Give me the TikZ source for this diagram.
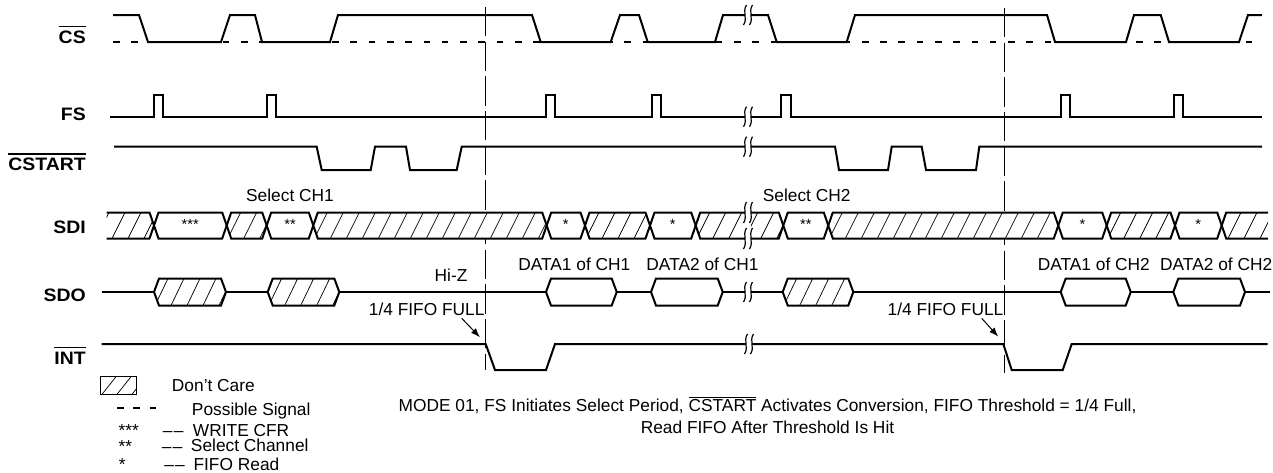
\documentclass[tikz,border=0pt]{standalone}
\usepackage{fontspec}
\setmainfont{Liberation Sans}
\usepackage{graphicx}
\usetikzlibrary{arrows.meta}
\newcommand{\ovl}[3]{\leavevmode\vbox{\hrule height #1\kern#2\hbox{#3}}}
\newcommand{\blab}[1]{\scalebox{1.08}[1]{\fontsize{13.5}{15}\selectfont\bfseries #1}}
\newcommand{\ddash}{–\kern1pt–}
\tikzset{
  sig/.style={line width=1.5pt},
  hatchln/.style={line width=0.55pt},
  brkln/.style={line width=0.9pt},
  vdash/.style={line width=0.75pt, dash pattern=on 22pt off 4pt},
  lab/.style={anchor=base east, inner sep=0pt},
  txt/.style={anchor=base, inner sep=0pt, font=\fontsize{13}{15}\selectfont},
  txtw/.style={anchor=base west, inner sep=0pt, font=\fontsize{13}{15}\selectfont},
  ast/.style={anchor=base, inner sep=0pt, font=\fontsize{11}{13}\selectfont},
  arr/.style={line width=0.75pt, -{Latex[length=7pt,width=5pt]}}
}
% hexagonal bus box, white
\newcommand{\hexbox}[5]{\filldraw[sig,fill=white] (#1,{(#3+#4)/2}) -- ({#1+#5},#3) -- ({#2-#5},#3) -- (#2,{(#3+#4)/2}) -- ({#2-#5},#4) -- ({#1+#5},#4) -- cycle;}
% hexagonal bus box, hatched (don't care)
\newcommand{\hexhatch}[5]{%
  \begin{scope}
    \clip (#1,{(#3+#4)/2}) -- ({#1+#5},#3) -- ({#2-#5},#3) -- (#2,{(#3+#4)/2}) -- ({#2-#5},#4) -- ({#1+#5},#4) -- cycle;
    \fill[white] (#1,#3) rectangle (#2,#4);
    \foreach \k in {0,...,20}{\draw[hatchln] ({#1-15+16*\k},#4) -- ++(13,{#3-#4});}
  \end{scope}
  \draw[sig] (#1,{(#3+#4)/2}) -- ({#1+#5},#3) -- ({#2-#5},#3) -- (#2,{(#3+#4)/2}) -- ({#2-#5},#4) -- ({#1+#5},#4) -- cycle;}
% break mark: x, y, half height
\newcommand{\brk}[3]{%
  \fill[white] ({#1-3},{#2-#3}) rectangle ({#1+3},{#2+#3});
  \draw[brkln] ({#1-1.5},{#2-#3}) .. controls ({#1-6},{#2-#3/3}) and ({#1},{#2+#3/3}) .. ({#1-4.5},{#2+#3});
  \draw[brkln] ({#1+4.5},{#2-#3}) .. controls ({#1},{#2-#3/3}) and ({#1+6},{#2+#3/3}) .. ({#1+1.5},{#2+#3});}
\begin{document}
\begin{tikzpicture}[x=0.75pt,y=-0.75pt]
\useasboundingbox (0,0) rectangle (1273,472);

% vertical reference lines
\draw[vdash] (485.7,7) -- (485.7,370);
\draw[vdash] (1004,8) -- (1004,373);

% signal names
\node[lab] (cs) at (86,43.3) {\blab{\ovl{0.9pt}{2.6pt}{CS}}};
\node[lab] (fs) at (86,120) {\blab{FS}};
\node[lab] (cstart) at (86,170) {\blab{\ovl{0.9pt}{2.2pt}{CSTART}}};
\node[lab] (sdi) at (86,233.3) {\blab{SDI}};
\node[lab] (sdo) at (86,301.7) {\blab{SDO}};
\node[lab] (int) at (86,364) {\blab{\ovl{0.9pt}{2.4pt}{INT}}};

% CS
\draw[sig, dash pattern=on 5pt off 8.7pt] (113,42) -- (1253,42);
\draw[sig] (113,15) -- (139,15) -- (148,42) -- (221,42) -- (230,15) -- (255,15) -- (262,42) -- (330,42) -- (338,15) -- (532,15) -- (540.7,42) -- (610.7,42) -- (620,15) -- (639,15) -- (647.7,42) -- (715,42) -- (723,15) -- (768,15) -- (776.7,42) -- (846.7,42) -- (855,15) -- (1047,15) -- (1055,42) -- (1126,42) -- (1134,15) -- (1160.7,15) -- (1169,42) -- (1239,42) -- (1248,15) -- (1262,15);

% FS
\draw[sig] (110,116.7) -- (154,116.7) -- (154,95) -- (163,95) -- (163,116.7)
  -- (266.7,116.7) -- (266.7,95) -- (276,95) -- (276,116.7)
  -- (546,116.7) -- (546,95) -- (555,95) -- (555,116.7)
  -- (652,116.7) -- (652,95) -- (661,95) -- (661,116.7)
  -- (781,116.7) -- (781,95) -- (790.7,95) -- (790.7,116.7)
  -- (1061,116.7) -- (1061,95) -- (1070,95) -- (1070,116.7)
  -- (1174,116.7) -- (1174,95) -- (1183,95) -- (1183,116.7) -- (1262,116.7);

% CSTART
\draw[sig] (114,146.7) -- (316.7,146.7) -- (321.7,170) -- (370.7,170) -- (375,146.7) -- (406,146.7) -- (410,170) -- (456.7,170) -- (461.7,146.7) -- (835,146.7) -- (839,170) -- (888,170) -- (891.7,146.7) -- (921.7,146.7) -- (926,170) -- (976,170) -- (979.3,146.7) -- (1262,146.7);

% SDI
\begin{scope}
  \clip (106.7,212.5) -- (149.5,212.5) -- (154,225.5) -- (149.5,238.5) -- (106.7,238.5) -- cycle;
  \foreach \k in {0,...,4}{\draw[hatchln] ({96+16*\k},238.5) -- ++(13,-26);}
\end{scope}
\draw[sig] (106.7,212.5) -- (149.5,212.5) -- (154,225.5) -- (149.5,238.5) -- (106.7,238.5);
\hexbox{154}{226.7}{212.5}{238.5}{4.5}
\hexhatch{226.7}{266.7}{212.5}{238.5}{4.5}
\hexbox{266.7}{313.3}{212.5}{238.5}{4.5}
\hexhatch{313.3}{546.7}{212.5}{238.5}{4.5}
\hexbox{546.7}{585}{212.5}{238.5}{4.5}
\hexhatch{585}{650}{212.5}{238.5}{4.5}
\hexbox{650}{695.7}{212.5}{238.5}{4.5}
\hexhatch{695.7}{783.3}{212.5}{238.5}{4.5}
\hexbox{783.3}{828.3}{212.5}{238.5}{4.5}
\hexhatch{828.3}{1058.3}{212.5}{238.5}{4.5}
\hexbox{1058.3}{1106.7}{212.5}{238.5}{4.5}
\hexhatch{1106.7}{1175}{212.5}{238.5}{4.5}
\hexbox{1175}{1221.7}{212.5}{238.5}{4.5}
\begin{scope}
  \clip (1268,212.5) -- (1226.2,212.5) -- (1221.7,225.5) -- (1226.2,238.5) -- (1268,238.5) -- cycle;
  \foreach \k in {0,...,4}{\draw[hatchln] ({1212+16*\k},238.5) -- ++(13,-26);}
\end{scope}
\draw[sig] (1268,212.5) -- (1226.2,212.5) -- (1221.7,225.5) -- (1226.2,238.5) -- (1268,238.5);
\node[ast] (a3) at (190.3,229.6) {***};
\node[ast] (a2) at (290,229.6) {**};
\node[ast] (a1a) at (565.8,229.6) {*};
\node[ast] (a1b) at (672.8,229.6) {*};
\node[ast] (a2b) at (805.8,229.6) {**};
\node[ast] (a1c) at (1082.5,229.6) {*};
\node[ast] (a1d) at (1198.3,229.6) {*};

% SDO
\draw[sig] (101.7,292) -- (1270,292);
\hexhatch{154}{226}{278.5}{305.5}{5}
\hexhatch{267.7}{339.3}{278.5}{305.5}{5}
\hexbox{546}{616.7}{278.5}{305.5}{5}
\hexbox{651}{722.7}{278.5}{305.5}{5}
\hexhatch{782.7}{853.3}{278.5}{305.5}{5}
\hexbox{1060.7}{1130.7}{278.5}{305.5}{5}
\hexbox{1173.3}{1245}{278.5}{305.5}{5}

% INT
\draw[sig] (101.7,344) -- (485.7,344) -- (495,370) -- (546,370) -- (555,344) -- (1003.3,344) -- (1011.7,370) -- (1062.7,370) -- (1071.7,344) -- (1267.7,344);

% break marks
\brk{748}{15}{10}
\brk{748}{116.7}{10}
\brk{748}{146.7}{10}
\fill[white] (745,202) rectangle (751,249);
\brk{748}{212.5}{10.5}
\brk{748}{238.5}{10.5}
\brk{748}{292}{10}
\brk{749}{344}{10}

% labels
\node[txt] (selch1) at (290,201.7) {Select CH1};
\node[txt] (selch2) at (806.7,201.7) {Select CH2};
\node[txt] (hiz) at (451,281.7) {Hi-Z};
\node[txt] (d1c1) at (574.3,270.7) {DATA1 of CH1};
\node[txt] (d2c1) at (702.5,270.7) {DATA2 of CH1};
\node[txt] (d1c2) at (1093.8,270.7) {DATA1 of CH2};
\node[txt] (d2c2) at (1216.2,270.7) {DATA2 of CH2};
\node[txt] (fifo1) at (426.7,315.7) {1/4 FIFO FULL};
\node[txt] (fifo2) at (945.5,315.5) {1/4 FIFO FULL};
\coordinate (tip1) at (480,337.3);
\coordinate (tip2) at (998.3,336.7);
\draw[arr] (fifo1.base) ++(35,2.6) -- (tip1);
\draw[arr] (fifo2.base) ++(36.2,2.8) -- (tip2);

% caption
\node[txt] (cap1) at (767.5,411) {MODE 01, FS Initiates Select Period, \ovl{0.5pt}{1.2pt}{CSTART} Activates Conversion, FIFO Threshold = 1/4 Full,};
\node[txt] (cap2) at (767.5,433.3) {Read FIFO After Threshold Is Hit};

% legend
\begin{scope}
  \clip (100.7,376.7) rectangle (136.7,394.3);
  \foreach \k in {0,1,2}{\draw[hatchln] ({102+15*\k},394.3) -- ++(14,-17.6);}
\end{scope}
\draw[line width=0.8pt] (100.7,376.7) rectangle (136.7,394.3);
\draw[sig, dash pattern=on 5pt off 7.2pt] (117,408.3) -- (157,408.3);
\node[txtw] (ldc) at (171.7,391) {Don’t Care};
\node[txtw] (lps) at (191.7,415) {Possible Signal};
\node[txtw] (la3) at (118.3,436.4) {***};
\node[txtw] (ld3) at (162.7,436.4) {\ddash};
\node[txtw] (lwc) at (192.7,436) {WRITE CFR};
\node[txtw] (la2) at (118.3,452.2) {**};
\node[txtw] (ld2) at (161.7,452.2) {\ddash};
\node[txtw] (lsc) at (190.7,451.7) {Select Channel};
\node[txtw] (la1) at (118.5,470.5) {*};
\node[txtw] (ld1) at (164,470.5) {\ddash};
\node[txtw] (lfr) at (193.3,470) {FIFO Read};
\end{tikzpicture}
\end{document}
